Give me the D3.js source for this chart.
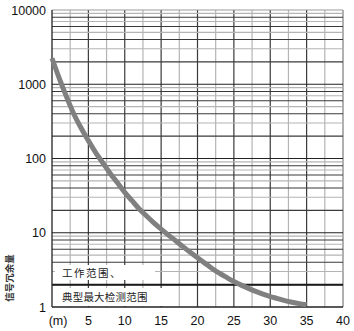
<!DOCTYPE html>
<html><head><meta charset="utf-8">
<script src="https://cdn.jsdelivr.net/npm/d3@7"></script>
<style>body{margin:0;background:#fff}svg{display:block}</style>
</head><body>
<svg id="c" width="354" height="331"></svg>
<script>
const distance = [0,1,2,3,4,5,6,7,8,9,10,11,12,13,14,15,16,17,18,19,20,21,22,23,24,25,26,27,28,29,30,31,32,33,34,35];
const margin = [2240,1200,676,398,257,174,120,87,63,47,35,27,20.9,16.8,13.6,11.2,9.3,7.8,6.5,5.45,4.6,3.9,3.3,2.85,2.5,2.2,1.97,1.78,1.62,1.49,1.38,1.3,1.22,1.16,1.11,1.07];
const xTicks = [5,10,15,20,25,30,35,40];
const yTicks = [1,10,100,1000,10000];
const xUnit = "(m)";
const yTitle = "信号冗余量";
const rangeLabels = ["工作范围、","典型最大检测范围"];
const thresholdValue = 2;

const svg = d3.select("#c");
const x = d3.scaleLinear().domain([0,40]).range([52,343]);
const y = d3.scaleLog().domain([1,10000]).range([307,10]);

// vertical grid every 2.5 m
const vlines = d3.range(2.5, 40.01, 2.5);
svg.append("g").selectAll("line").data(vlines).join("line")
  .attr("x1", d=>x(d)).attr("x2", d=>x(d)).attr("y1", y(10000)).attr("y2", y(1))
  .attr("stroke", (d,i)=> (d===40) ? "#b0b0b0" : (i%2===0 ? "#b4b4b4" : "#3a3a3a"))
  .attr("stroke-width", d=> d===40 ? 2 : 1.2);

// horizontal log grid
const hlines = [];
for (let dec=1; dec<10000; dec*=10) for (let m=2; m<=9; m++) hlines.push({v:dec*m, m});
svg.append("g").selectAll("line").data(hlines).join("line")
  .attr("x1", x(0)).attr("x2", x(40)).attr("y1", d=>y(d.v)).attr("y2", d=>y(d.v))
  .attr("stroke", d=> d.m%2===0 ? "#3a3a3a" : "#b4b4b4")
  .attr("stroke-width", 1.1);
svg.append("g").selectAll("line").data(yTicks.slice(1,4)).join("line")
  .attr("x1", x(0)).attr("x2", x(40)).attr("y1", d=>y(d)).attr("y2", d=>y(d))
  .attr("stroke", "#222").attr("stroke-width", 1.2);
// top border
svg.append("line").attr("x1", x(0)).attr("x2", x(40)).attr("y1", y(10000)).attr("y2", y(10000))
  .attr("stroke", "#999").attr("stroke-width", 1);
// threshold thick line
svg.append("line").attr("x1", x(0)).attr("x2", x(40)).attr("y1", y(thresholdValue)).attr("y2", y(thresholdValue))
  .attr("stroke", "#1a1a1a").attr("stroke-width", 2);

// label boxes
svg.append("rect").attr("x", 55).attr("y", 265).attr("width", 100).attr("height", 15).attr("fill", "#fff");
svg.append("rect").attr("x", 55).attr("y", 288).attr("width", 113).attr("height", 18).attr("fill", "#fff");

// axes lines
svg.append("line").attr("x1", x(0)).attr("x2", x(0)).attr("y1", y(10000)).attr("y2", y(1)).attr("stroke","#222").attr("stroke-width",1.3);
svg.append("line").attr("x1", x(0)).attr("x2", x(40)).attr("y1", y(1)).attr("y2", y(1)).attr("stroke","#222").attr("stroke-width",1.3);

// curve
const line = d3.line().x((d,i)=>x(distance[i])).y(d=>y(d)).curve(d3.curveMonotoneX);
svg.append("path").attr("d", line(margin)).attr("fill","none")
  .attr("stroke","#808080").attr("stroke-width",5).attr("stroke-linecap","butt");

// range labels
svg.append("text").attr("x", 62).attr("y", 277).text(rangeLabels[0])
  .attr("font-family","Noto Sans CJK SC").attr("font-size",10.5).attr("letter-spacing",1.5).attr("fill","#222");
svg.append("text").attr("x", 62).attr("y", 301).text(rangeLabels[1])
  .attr("font-family","Noto Sans CJK SC").attr("font-size",10.5).attr("letter-spacing",0.2).attr("fill","#222");

// y tick labels
svg.append("g").selectAll("text").data(yTicks).join("text")
  .attr("x", 46).attr("y", d=>y(d)).attr("dy","0.36em").attr("text-anchor","end")
  .attr("font-family","Liberation Sans, Arial, sans-serif").attr("font-size",12.5).attr("fill","#111")
  .text(d=>d);
// x tick labels
svg.append("g").selectAll("text").data(xTicks).join("text")
  .attr("x", d=>x(d)).attr("y", 325).attr("text-anchor","middle")
  .attr("font-family","Liberation Sans, Arial, sans-serif").attr("font-size",12.5).attr("fill","#111")
  .text(d=>d);
svg.append("text").attr("x", 58).attr("y", 325).attr("text-anchor","middle")
  .attr("font-family","Liberation Sans, Arial, sans-serif").attr("font-size",12.5).attr("fill","#111").text(xUnit);
// y title
svg.append("text").attr("transform","translate(13,278) rotate(-90)").attr("text-anchor","middle")
  .attr("font-family","Noto Sans CJK SC").attr("font-size",9.5).attr("font-weight","bold").attr("fill","#333").text(yTitle);
</script>
</body></html>
